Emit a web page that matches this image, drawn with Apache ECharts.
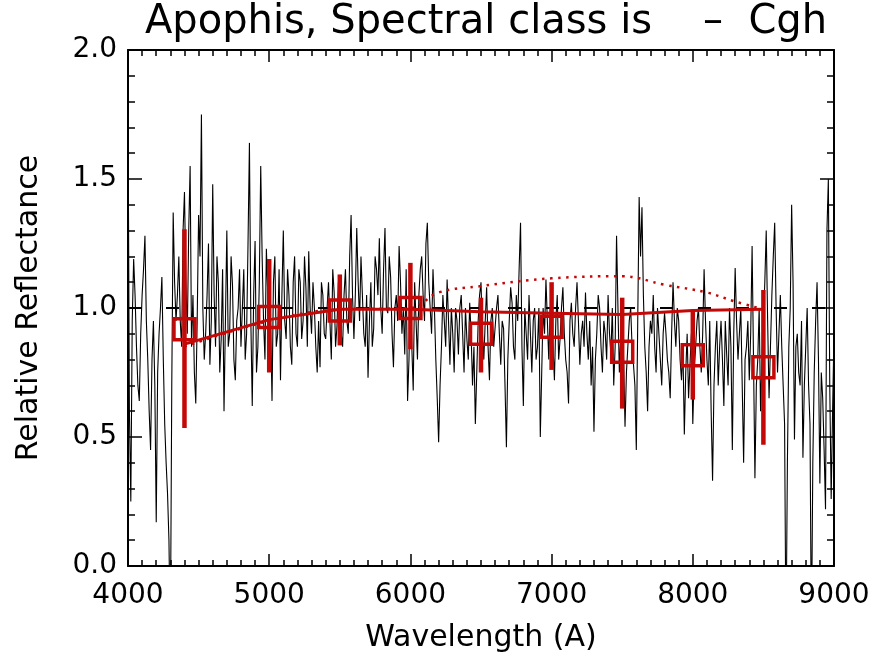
<!DOCTYPE html>
<html>
<head>
<meta charset="utf-8">
<title>Apophis spectrum</title>
<script src="https://cdn.jsdelivr.net/npm/echarts@6/dist/echarts.min.js"></script>
<style>
  html, body { margin: 0; padding: 0; background: #fff; }
  #chart { width: 882px; height: 654px; }
</style>
</head>
<body>
<div id="chart"></div>
<script>
// Reflectance spectrum: samples on the 20 A grid starting at 4000 A ...
const specStart = 4000;
const specStep = 20;
const reflectanceEven = [
  1.78, 0.25, 1.19, 0.85, 0.64, 1.05, 1.28, 0.80, 0.45, 0.95,
  0.17, 0.90, 1.12, 0.55, 0.28, -0.3, 1.37, 0.95, 1.20, 0.85,
  1.45, 0.90, 1.55, 1.05, 0.63, 1.36, 1.75, 0.80, 1.05, 0.78,
  1.48, 0.85, 1.10, 0.88, 0.60, 1.30, 0.90, 1.09, 0.72, 1.00,
  0.85, 1.15, 0.90, 1.64, 0.62, 1.26, 0.85, 1.55, 0.95, 1.23,
  0.80, 0.64, 1.20, 0.90, 0.72, 1.30, 0.88, 1.05, 0.78, 1.20,
  0.85, 1.10, 0.95, 1.08, 1.22, 0.90, 1.00, 0.75, 0.77, 1.05,
  0.88, 1.10, 0.80, 1.06, 0.93, 1.00, 0.85, 1.15, 0.90, 1.36,
  0.88, 1.31, 0.95, 1.20, 0.85, 0.73, 1.10, 0.92, 1.15, 1.27,
  0.90, 1.31, 0.98, 1.12, 0.77, 1.05, 1.24, 0.90, 0.82, 0.64,
  1.10, 0.68, 0.95, 1.05, 1.20, 0.95, 1.33, 1.00, 1.15, 0.80,
  0.48, 0.85, 0.95, 1.11, 0.78, 0.90, 1.00, 0.82, 1.05, 0.75,
  0.88, 1.02, 0.70, 0.55, 0.95, 1.10, 0.80, 1.08, 0.72, 1.00,
  0.85, 1.05, 0.78, 0.92, 0.46, 0.95, 1.02, 0.80, 0.95, 1.33,
  0.62, 0.90, 1.05, 0.75, 1.00, 0.85, 0.50, 1.00, 1.11, 0.80,
  0.95, 0.72, 1.05, 0.88, 1.08, 0.80, 0.63, 1.02, 0.85, 1.10,
  0.78, 0.95, 1.06, 0.80, 0.70, 0.52, 0.90, 1.00, 0.75, 0.90,
  1.05, 0.82, 0.70, 1.28, 0.75, 0.95, 0.54, 0.85, 1.00, 0.78,
  0.45, 1.43, 1.39, 0.85, 0.60, 0.95, 1.05, 0.75, 0.90, 0.70,
  0.98, 0.80, 0.65, 1.10, 0.85, 0.95, 0.72, 0.51, 0.90, 0.78,
  0.55, 0.85, 1.00, 0.75, 1.15, 0.80, 0.95, 0.33, 0.85, 0.70,
  0.95, 0.62, 0.82, 1.00, 0.45, 1.155, 0.80, 1.00, 0.40, 0.85,
  0.72, 1.24, 0.34, 0.80, 0.60, 0.95, 1.30, 0.65, 1.05, 1.33,
  0.75, 1.05, 0.70, -0.3, 0.85, 1.40, 0.49, 0.90, 0.70, 0.42,
  0.85, 0.70, -0.3, 0.75, 1.10, 0.32, 0.65, 0.22, 1.50, 0.26,
  0.90
];
// ... and the samples halfway between them (4010 A, 4030 A, ... 8990 A)
const reflectanceOdd = [
  0.60, 0.95, 1.05, 0.70, 0.90, 1.15, 0.95, 0.60, 0.80, 0.70,
  0.75, 1.00, 0.80, 0.40, 0.10, 0.70, 1.10, 1.05, 0.95, 1.30,
  1.10, 1.30, 0.85, 0.75, 0.95, 1.20, 1.00, 0.90, 1.25, 0.95,
  1.05, 1.20, 0.75, 1.15, 0.95, 0.85, 1.20, 0.80, 0.95, 1.15,
  1.00, 0.80, 1.25, 0.95, 1.05, 0.75, 1.10, 1.20, 0.80, 1.05,
  0.95, 1.10, 0.85, 1.15, 1.05, 0.95, 1.15, 0.85, 1.10, 0.90,
  1.15, 0.88, 1.20, 0.85, 1.00, 1.10, 0.85, 0.95, 1.10, 0.90,
  1.00, 0.95, 1.15, 0.85, 1.10, 0.90, 1.05, 0.95, 1.20, 1.05,
  1.05, 1.10, 1.20, 0.90, 1.05, 0.95, 0.85, 1.20, 1.05, 1.00,
  1.15, 1.00, 1.20, 0.90, 1.00, 0.95, 1.10, 1.00, 1.15, 0.80,
  0.85, 1.10, 0.80, 1.15, 1.05, 1.25, 1.10, 0.90, 1.00, 0.65,
  0.70, 1.05, 0.85, 0.95, 1.00, 0.75, 0.95, 1.00, 0.90, 1.00,
  0.80, 0.90, 0.85, 0.75, 1.05, 0.90, 0.95, 0.85, 0.95, 0.85,
  1.00, 0.90, 0.95, 0.70, 0.80, 1.08, 0.85, 1.05, 1.15, 0.85,
  1.00, 0.80, 0.90, 0.95, 0.80, 1.00, 0.75, 0.90, 0.95, 1.00,
  0.85, 0.95, 0.80, 1.00, 0.90, 0.75, 0.95, 0.90, 1.00, 0.95,
  0.90, 0.85, 0.90, 0.95, 0.85, 0.80, 1.05, 0.85, 0.95, 0.80,
  0.90, 1.00, 0.85, 1.00, 0.90, 0.80, 0.75, 0.95, 0.85, 0.70,
  0.95, 1.20, 1.05, 0.75, 0.85, 0.90, 0.85, 1.00, 0.80, 0.90,
  0.90, 0.75, 0.90, 0.95, 1.00, 0.80, 0.85, 0.75, 0.65, 0.90,
  0.75, 0.95, 0.85, 0.90, 0.95, 0.70, 0.60, 0.70, 0.95, 0.85,
  0.80, 0.95, 0.70, 0.85, 0.90, 0.95, 0.90, 0.70, 0.80, 0.95,
  0.90, 0.80, 0.70, 1.00, 0.80, 1.10, 0.95, 0.85, 1.20, 1.00,
  0.90, 0.85, 0.55, 0.40, 1.00, 1.10, 0.85, 0.75, 0.95, 0.70,
  1.00, 0.55, 0.40, 0.95, 0.80, 0.75, 0.45, 1.30, 0.70, 0.60
];

// Binned photometric points with error bars
const binWave = [4400, 5000, 5500, 6000, 6500, 7000, 7500, 8000, 8500];
const binValue = [0.918, 0.965, 0.99, 1.0, 0.90, 0.927, 0.83, 0.817, 0.77];
const binLow = [0.535, 0.75, 0.855, 0.84, 0.75, 0.76, 0.61, 0.645, 0.47];
const binHigh = [1.305, 1.19, 1.13, 1.175, 1.04, 1.10, 1.04, 0.99, 1.07];

// Class template (solid) and comparison template (dotted)
const fitWave = [4400, 5000, 5500, 6000, 6500, 7000, 7500, 8000, 8500];
const fitValue = [0.86, 0.955, 0.995, 0.995, 0.985, 0.98, 0.975, 0.99, 0.995];
const altWave = [4400, 5000, 5500, 6000, 6200, 6500, 7000, 7500, 7800, 8100, 8300, 8500];
const altValue = [0.85, 0.95, 0.995, 1.0, 1.06, 1.085, 1.115, 1.123, 1.09, 1.06, 1.025, 0.995];

// Unit reflectance reference
const refWave = [4000, 9000];
const refValue = [1.0, 1.0];

const xTicks = { min: 4000, max: 9000, interval: 1000 };
const yTicks = { min: 0, max: 2, interval: 0.5 };

const RED = '#c40808';
const FONT = 'DejaVu Sans';

const spectrum = [];
reflectanceEven.forEach((v, i) => {
  spectrum.push([specStart + i * specStep, v]);
  if (i < reflectanceOdd.length) {
    spectrum.push([specStart + i * specStep + specStep / 2, reflectanceOdd[i]]);
  }
});
const bins = binWave.map((w, i) => [w, binValue[i], binLow[i], binHigh[i]]);
const fit = fitWave.map((w, i) => [w, fitValue[i]]);
const alt = altWave.map((w, i) => [w, altValue[i]]);
const ref = refWave.map((w, i) => [w, refValue[i]]);

const chart = echarts.init(document.getElementById('chart'), null, { renderer: 'canvas' });

function xAxisDef(pos, showLabels) {
  return {
    type: 'value', position: pos,
    min: xTicks.min, max: xTicks.max, interval: xTicks.interval,
    axisLine: { show: true, onZero: false, lineStyle: { color: '#000', width: 2 } },
    axisTick: { show: true, inside: true, length: 12, lineStyle: { color: '#000', width: 1.5 } },
    minorTick: { show: true, splitNumber: 10, length: 6, lineStyle: { color: '#000', width: 1.5 } },
    splitLine: { show: false },
    axisLabel: { show: showLabels, color: '#000', fontFamily: FONT, fontSize: 28, margin: 16,
                 formatter: v => String(v) },
    name: showLabels ? 'Wavelength (A)' : '',
    nameLocation: 'middle', nameGap: 57,
    nameTextStyle: { color: '#000', fontFamily: FONT, fontSize: 30 }
  };
}
function yAxisDef(pos, showLabels) {
  return {
    type: 'value', position: pos,
    min: yTicks.min, max: yTicks.max, interval: yTicks.interval,
    axisLine: { show: true, onZero: false, lineStyle: { color: '#000', width: 2 } },
    axisTick: { show: true, inside: true, length: 14, lineStyle: { color: '#000', width: 1.5 } },
    minorTick: { show: true, splitNumber: 5, length: 7, lineStyle: { color: '#000', width: 1.5 } },
    splitLine: { show: false },
    axisLabel: { show: showLabels, color: '#000', fontFamily: FONT, fontSize: 28, margin: 11,
                 formatter: v => v.toFixed(1) },
    name: showLabels ? 'Relative Reflectance' : '',
    nameLocation: 'middle', nameGap: 84, nameRotate: 90,
    nameTextStyle: { color: '#000', fontFamily: FONT, fontSize: 30 }
  };
}

chart.setOption({
  backgroundColor: '#fff',
  animation: false,
  title: {
    text: 'Apophis, Spectral class is    \u2013  Cgh',
    left: 481, top: -2, textAlign: 'center',
    textStyle: { color: '#000', fontFamily: FONT, fontSize: 40, fontWeight: 'normal' }
  },
  grid: { left: 128, right: 48, top: 50, bottom: 88, containLabel: false, outerBoundsMode: 'none' },
  xAxis: [xAxisDef('bottom', true), xAxisDef('top', false)],
  yAxis: [yAxisDef('left', true), yAxisDef('right', false)],
  series: [
    {
      name: 'unity', type: 'line', data: ref, showSymbol: false, silent: true,
      lineStyle: { color: '#000', width: 2, type: [13, 25] }, z: 1
    },
    {
      name: 'spectrum', type: 'line', data: spectrum, showSymbol: false, clip: true,
      lineStyle: { color: '#000', width: 1.1 }, z: 2
    },
    {
      name: 'alt', type: 'line', data: alt, showSymbol: false, smooth: 0.4,
      lineStyle: { color: RED, width: 2.5, type: [2.5, 5.5] }, z: 3
    },
    {
      name: 'fit', type: 'line', data: fit, showSymbol: false,
      lineStyle: { color: RED, width: 3 }, z: 4
    },
    {
      name: 'bins', type: 'custom', data: bins, z: 5,
      renderItem: function (params, api) {
        const w = api.value(0);
        const c = api.coord([w, api.value(1)]);
        const lo = api.coord([w, api.value(2)]);
        const hi = api.coord([w, api.value(3)]);
        const half = 10.5;
        return {
          type: 'group',
          children: [
            { type: 'line', shape: { x1: c[0], y1: hi[1], x2: c[0], y2: lo[1] },
              style: { stroke: RED, lineWidth: 4.5 } },
            { type: 'rect', shape: { x: c[0] - half, y: c[1] - half, width: 2 * half, height: 2 * half },
              style: { fill: 'none', stroke: RED, lineWidth: 3.5 } }
          ]
        };
      }
    }
  ]
});
</script>
</body>
</html>
